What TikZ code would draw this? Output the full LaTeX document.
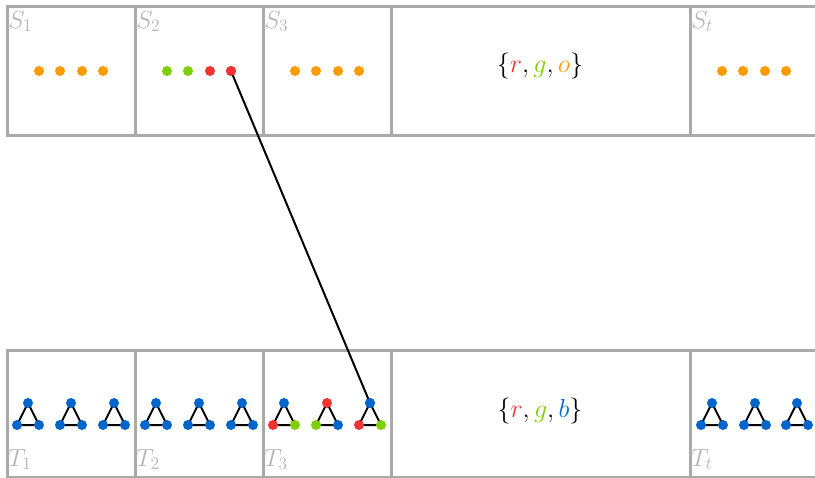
\documentclass[tikz,border=0pt]{standalone}
\usepackage{fix-cm}
\definecolor{boxgray}{HTML}{AAAAAA}
\definecolor{labgray}{HTML}{B4B4B4}
\definecolor{co}{HTML}{FF9A00}
\definecolor{cg}{HTML}{7DCF00}
\definecolor{cr}{HTML}{EE3333}
\definecolor{cb}{HTML}{0066CC}
\begin{document}
\begin{tikzpicture}[x=0.75pt,y=-0.75pt,
  box/.style={draw=boxgray,line width=2.25pt},
  dot/.style={circle,fill=#1,minimum size=7.5pt,inner sep=0pt},
  lab/.style={text=labgray,font=\fontsize{18.6}{19}\selectfont,inner sep=0pt},
  edge/.style={black,line width=1.5pt},
  set/.style={font=\fontsize{19.5}{20}\selectfont,inner sep=0pt}]
\useasboundingbox (0,0) rectangle (815,478);
% top band
\draw[box] (815,7) -- (7,7) -- (7,136) -- (815,136);
\foreach \x in {135,263,391,690} \draw[box] (\x,7) -- (\x,136);
% bottom band
\draw[box] (815,350) -- (7,350) -- (7,477) -- (815,477);
\foreach \x in {135,263,391,690} \draw[box] (\x,350) -- (\x,477);
% labels
\node[lab,anchor=north west] (lS1) at (8,11) {$S_1$};
\node[lab,anchor=north west] (lS2) at (136,11) {$S_2$};
\node[lab,anchor=north west] (lS3) at (264,11) {$S_3$};
\node[lab,anchor=north west] (lSt) at (691,11) {$S_t$};
\node[lab,anchor=north west] (lT1) at (8,449) {$T_1$};
\node[lab,anchor=north west] (lT2) at (136,449) {$T_2$};
\node[lab,anchor=north west] (lT3) at (264,449) {$T_3$};
\node[lab,anchor=north west] (lTt) at (691,449) {$T_t$};
% sets
\node[set] (setS) at (540,66) {$\{{\color{cr}r},{\color{cg}g},{\color{co}o}\}$};
\node[set] (setT) at (540,410.5) {$\{{\color{cr}r},{\color{cg}g},{\color{cb}b}\}$};
% top dots
\foreach \n/\x/\c in {s1a/39/co,s1b/60/co,s1c/82/co,s1d/103/co,
  s2a/167/cg,s2b/188/cg,s2c/210/cr,s2d/231/cr,
  s3a/295/co,s3b/316/co,s3c/338/co,s3d/359/co,
  sta/722/co,stb/743/co,stc/765/co,std/786/co}
  \node[dot=\c] (\n) at (\x,71) {};
% triangles
\foreach \n/\x/\ct/\cl/\cR in {t1a/28/cb/cb/cb,t1b/71/cb/cb/cb,t1c/114/cb/cb/cb,
  t2a/156/cb/cb/cb,t2b/199/cb/cb/cb,t2c/242/cb/cb/cb,
  t3a/284/cb/cr/cg,t3b/327/cr/cg/cb,t3c/370/cb/cr/cg,
  tta/712/cb/cb/cb,ttb/755/cb/cb/cb,ttc/797/cb/cb/cb}{
  \coordinate (\n-T) at (\x,403);
  \coordinate (\n-L) at (\x-11,425);
  \coordinate (\n-R) at (\x+11,425);
  \draw[edge] (\n-T) -- (\n-L) -- (\n-R) -- cycle;
  \node[dot=\ct] (\n-top) at (\n-T) {};
  \node[dot=\cl] (\n-left) at (\n-L) {};
  \node[dot=\cR] (\n-right) at (\n-R) {};
}
% connector
\draw[edge] (s2d.center) -- (t3c-top.center);
\node[dot=cr] (s2dcap) at (s2d) {};
\node[dot=cb] (t3ccap) at (t3c-top) {};
\end{tikzpicture}
\end{document}
